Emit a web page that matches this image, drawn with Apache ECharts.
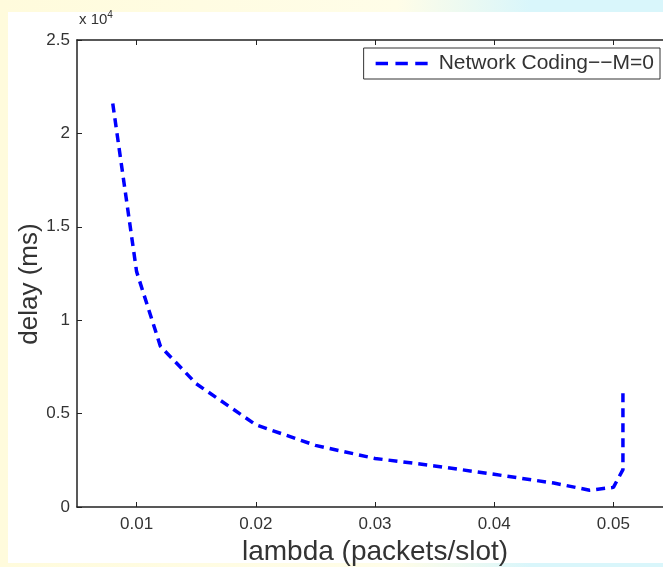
<!DOCTYPE html>
<html>
<head>
<meta charset="utf-8">
<script src="https://cdn.jsdelivr.net/npm/echarts@6/dist/echarts.min.js"></script>
<style>
  html, body { margin: 0; padding: 0; }
  body {
    width: 663px; height: 567px; position: relative; overflow: hidden;
    background: linear-gradient(90deg, #fffbdc 0%, #fffde8 60%, #d9f6fb 80%, #d9f6fb 100%);
  }
  #paper { position: absolute; left: 8px; top: 12px; width: 655px; height: 551px; background: #fff; }
  #main { position: absolute; left: 0; top: 0; width: 663px; height: 567px; }
</style>
</head>
<body>
<div id="paper"></div>
<div id="main"></div>
<script>
// lambda (packets/slot) vs delay (ms)
var lambda = [0.008, 0.010, 0.012, 0.015, 0.020, 0.025, 0.030, 0.035, 0.040, 0.045, 0.048, 0.050, 0.0508, 0.0508];
var delay  = [21600, 12600, 8600, 6600, 4400, 3300, 2600, 2200, 1750, 1280, 900, 1050, 2000, 6400];
var xTicks = [0.01, 0.02, 0.03, 0.04, 0.05];
var seriesName = 'Network Coding\u2212\u2212M=0';

var chart = echarts.init(document.getElementById('main'));
var pts = [];
for (var i = 0; i < lambda.length; i++) {
  pts.push([lambda[i], delay[i]]);
}
var txt = '#333';
var font = 'Liberation Sans, Arial, sans-serif';

option = {
  animation: false,
  grid: { left: 77, top: 40, right: -10, bottom: 60, outerBoundsMode: 'none', containLabel: false },
  xAxis: [{
    type: 'value', min: 0.005, max: 0.055,
    name: 'lambda (packets/slot)', nameLocation: 'middle', nameGap: 28,
    nameTextStyle: { fontSize: 28, color: txt, fontFamily: font },
    axisLine: { lineStyle: { color: '#222', width: 1.5 } },
    axisTick: { inside: true, length: 5, customValues: xTicks, lineStyle: { color: '#222' } },
    axisLabel: { customValues: xTicks, color: txt, fontSize: 17, fontFamily: font, margin: 9,
      formatter: function (v) { return v.toFixed(2); } },
    splitLine: { show: false }
  }, {
    type: 'value', position: 'top', min: 0.005, max: 0.055,
    axisLine: { lineStyle: { color: '#222', width: 1.5 } },
    axisTick: { inside: true, length: 5, customValues: xTicks, lineStyle: { color: '#222' } },
    axisLabel: { show: false },
    splitLine: { show: false }
  }],
  yAxis: {
    type: 'value', min: 0, max: 25000, interval: 5000,
    axisLine: { show: true, lineStyle: { color: '#222', width: 1.5 } },
    axisTick: { show: true, inside: true, length: 5, lineStyle: { color: '#222' } },
    axisLabel: { color: txt, fontSize: 17, fontFamily: font, margin: 7,
      formatter: function (v) { return String(v / 10000); } },
    splitLine: { show: false }
  },
  legend: {
    right: 3, top: 48,
    data: [{ name: seriesName,
      icon: 'path://M0,0h10v3h-10z M16,0h10v3h-10z M32,0h10v3h-10z' }],
    backgroundColor: '#fff',
    borderColor: '#333', borderWidth: 1,
    padding: [5, 6, 5, 12],
    itemWidth: 52, itemHeight: 4, itemGap: 10,
    textStyle: { fontSize: 21, color: txt, fontFamily: font, padding: [0, 0, 0, 6] }
  },
  graphic: [{
    type: 'text', left: 79, top: 10,
    style: {
      text: 'x 10{s|4}',
      fill: txt, font: '15px ' + font,
      rich: { s: { fontSize: 10, verticalAlign: 'top', padding: [0, 0, 9, 0] } }
    }
  }, {
    type: 'text', x: 30, y: 284, rotation: Math.PI / 2,
    style: {
      text: 'delay (ms)', fill: txt, font: '26px ' + font,
      align: 'center', verticalAlign: 'middle'
    }
  }],
  series: [{
    name: seriesName,
    type: 'line',
    data: pts,
    symbol: 'none',
    lineStyle: { color: '#0000ff', width: 3.5, type: [9, 6] },
    itemStyle: { color: '#0000ff' }
  }]
};
chart.setOption(option);
</script>
</body>
</html>
